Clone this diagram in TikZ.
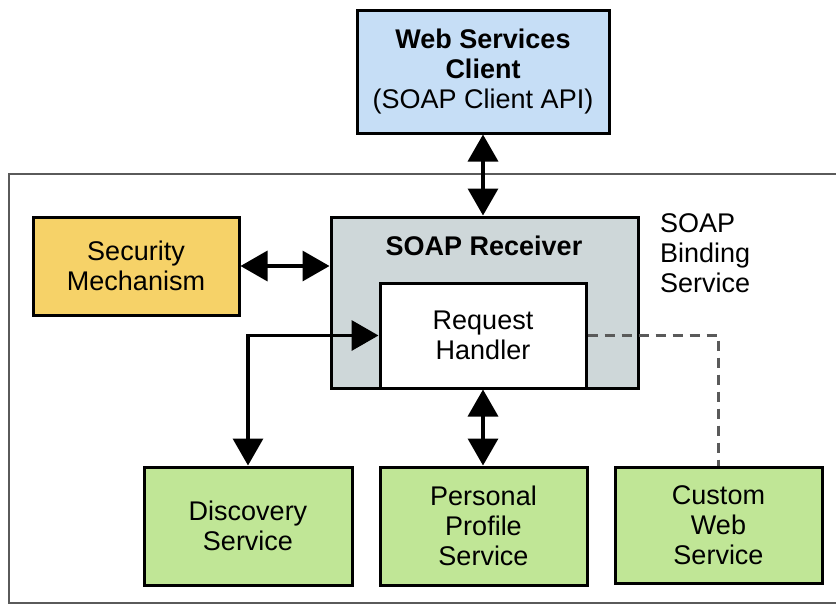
\documentclass[tikz,border=0pt]{standalone}
\usepackage{fontspec}
\setmainfont{Liberation Sans}
\usetikzlibrary{arrows.meta}
\definecolor{clientblue}{RGB}{198,222,246}
\definecolor{secyellow}{RGB}{246,210,104}
\definecolor{recvgray}{RGB}{206,215,217}
\definecolor{svcgreen}{RGB}{192,230,150}
\definecolor{framegray}{RGB}{90,90,90}
\tikzset{
  box/.style={draw=black, line width=3pt, inner sep=0pt, align=center,
    font=\fontsize{27}{30}\selectfont},
  conn/.style={line width=3.5pt, {Triangle[length=27pt,width=30pt]}-{Triangle[length=27pt,width=30pt]}},
  dashconn/.style={line width=3pt, draw=framegray, dash pattern=on 10pt off 7pt},
  lbl/.style={inner sep=0pt, align=left, font=\fontsize{27}{30}\selectfont}
}
\begin{document}
\begin{tikzpicture}[x=1pt,y=-1pt]
\useasboundingbox[fill=white] (0,0) rectangle (836,606);
% outer frame
\draw[framegray, line width=2pt] (838,174) -- (9,174) -- (9,603) -- (838,603);
% nodes
\node[box, fill=clientblue, minimum width=252pt, minimum height=123pt] (client) at (483,71.5)
  {\textbf{Web Services}\\\textbf{Client}\\(SOAP Client API)};
\node[box, fill=secyellow, minimum width=206pt, minimum height=98pt] (sec) at (136,266)
  {Security\\Mechanism};
\node[box, fill=recvgray, minimum width=307pt, minimum height=171pt] (recv) at (484.5,302.5) {};
\node[lbl, font=\fontsize{27}{30}\selectfont\bfseries] (recvlbl) at (484,246) {SOAP Receiver};
\node[box, fill=white, minimum width=206pt, minimum height=105pt] (handler) at (483,335.5)
  {Request\\Handler};
\node[lbl, anchor=north west] (sbs) at (660,213) {SOAP\\Binding\\Service};
\node[box, fill=svcgreen, minimum width=208pt, minimum height=118pt] (disc) at (248,526)
  {Discovery\\Service};
\node[box, fill=svcgreen, minimum width=207pt, minimum height=118pt] (pers) at (483.5,526)
  {Personal\\Profile\\Service};
\node[box, fill=svcgreen, minimum width=207pt, minimum height=116pt] (cust) at (718.5,525)
  {Custom\\Web\\Service};
% connectors
\draw[conn] (client.south) -- (client.south |- recv.north);
\draw[conn] (sec.east) -- (sec.east -| recv.west);
\draw[conn] (handler.south) -- (handler.south |- pers.north);
\draw[conn] (handler.west) -| (disc.north);
\draw[dashconn] (handler.east) -| (cust.north);
\end{tikzpicture}
\end{document}
